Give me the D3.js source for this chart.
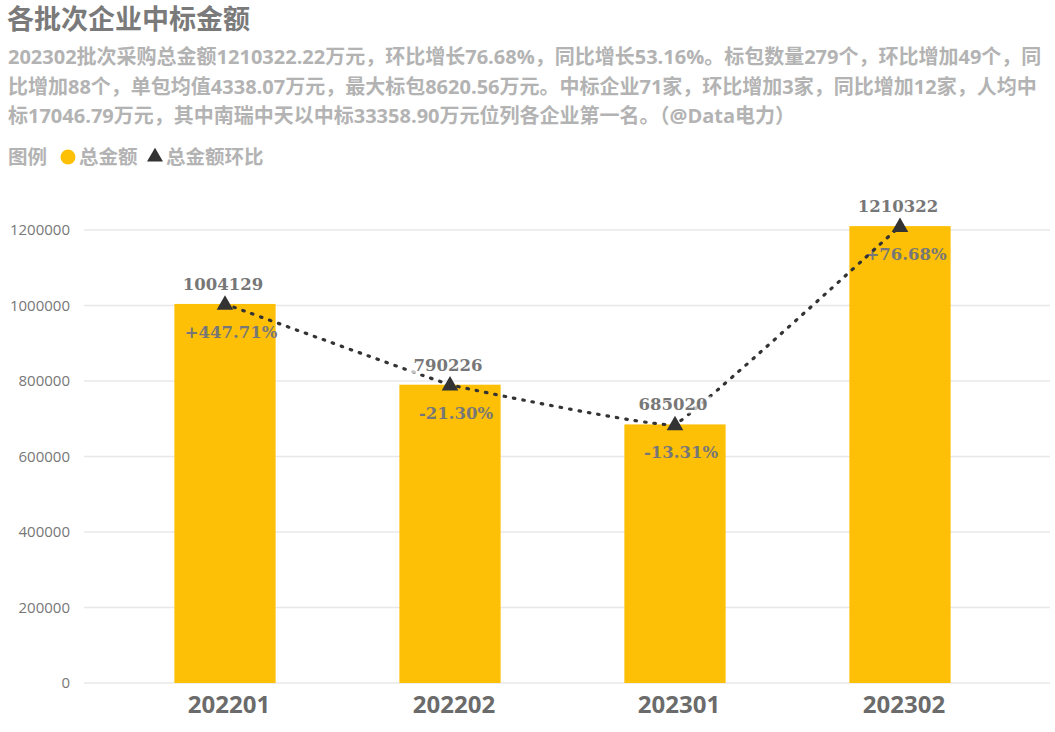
<!DOCTYPE html>
<html>
<head>
<meta charset="utf-8">
<script src="https://cdn.jsdelivr.net/npm/d3@7"></script>
<style>
  body { margin: 0; background: #fff; }
  text { font-family: "Open Sans", "Noto Sans CJK SC", sans-serif; }
</style>
</head>
<body>
<div id="chart"></div>
<script>
var batches = ["202201", "202202", "202301", "202302"];
var totals = [1004129, 790226, 685020, 1210322];
var changes = ["+447.71%", "-21.30%", "-13.31%", "+76.68%"];
var yTicks = [0, 200000, 400000, 600000, 800000, 1000000, 1200000];

var titleText = "各批次企业中标金额";
var noteLines = [
    "202302批次采购总金额1210322.22万元，环比增长76.68%，同比增长53.16%。标包数量279个，环比增加49个，同",
    "比增加88个，单包均值4338.07万元，最大标包8620.56万元。中标企业71家，环比增加3家，同比增加12家，人均中",
    "标17046.79万元，其中南瑞中天以中标33358.90万元位列各企业第一名。（@Data电力）"
];

function init() {
    var width = 1055;
    var height = 732;
    var barColor = "#FDC007";

    var svg = d3.select("#chart")
                .append("svg")
                .attr("width", width)
                .attr("height", height);

    // title + note
    svg.append("text")
        .attr("x", 7)
        .attr("y", 29)
        .attr("fill", "#7a7a7a")
        .style("font-size", "27px")
        .style("font-weight", "bold")
        .text(titleText);

    svg.selectAll("text.note")
        .data(noteLines)
        .enter()
        .append("text")
        .attr("class", "note")
        .attr("x", 8)
        .attr("y", function(d, i) { return 64 + i * 29.5; })
        .attr("fill", "#b3b3b3")
        .style("font-size", "20px")
        .style("font-weight", "bold")
        .text(function(d) { return d; });

    // legend
    var legend = svg.append("g").style("font-size", "19.5px").style("font-weight", "bold");
    legend.append("text").attr("x", 8).attr("y", 164).attr("fill", "#b3b3b3").text("图例");
    legend.append("circle").attr("cx", 68).attr("cy", 157).attr("r", 7.5).attr("fill", barColor);
    legend.append("text").attr("x", 79).attr("y", 164).attr("fill", "#b3b3b3").text("总金额");
    legend.append("path")
        .attr("d", d3.symbol().type(d3.symbolTriangle).size(110))
        .attr("transform", "translate(155,157)")
        .attr("fill", "#333");
    legend.append("text").attr("x", 166).attr("y", 164).attr("fill", "#b3b3b3").text("总金额环比");

    var xScale = d3.scaleBand()
                    .domain(batches)
                    .range([112.5, 1012.5])
                    .paddingInner(0.55)
                    .paddingOuter(0.275);

    var yScale = d3.scaleLinear()
                    .domain([0, 1200000])
                    .range([683, 230]);

    // grid lines
    svg.append("g")
        .selectAll("line")
        .data(yTicks)
        .enter()
        .append("line")
        .attr("x1", 84)
        .attr("x2", 1050)
        .attr("y1", function(d) { return yScale(d); })
        .attr("y2", function(d) { return yScale(d); })
        .attr("stroke", "#e8e8e8")
        .attr("stroke-width", 1.5);

    // Y axis
    var yAxis = d3.axisLeft(yScale)
                .tickValues(yTicks)
                .tickSize(0)
                .tickPadding(0)
                .tickFormat(d3.format("d"));
    var gy = svg.append("g")
        .attr("transform", "translate(70,0)")
        .call(yAxis);
    gy.select(".domain").remove();
    gy.selectAll("text")
        .attr("fill", "#777")
        .style("font-size", "15px")
        .style("font-family", "'Open Sans', sans-serif");

    // X axis
    var xAxis = d3.axisBottom(xScale).tickSize(0).tickPadding(0);
    var gx = svg.append("g")
        .attr("transform", "translate(4,713)")
        .call(xAxis);
    gx.select(".domain").remove();
    gx.selectAll("text")
        .attr("fill", "#6b6b6b")
        .attr("dy", 0)
        .style("font-size", "24px")
        .style("font-weight", "bold")
        .style("font-family", "'Open Sans', sans-serif");

    // bars
    svg.selectAll("rect.bar")
        .data(totals)
        .enter()
        .append("rect")
        .attr("class", "bar")
        .attr("x", function(d, i) { return xScale(batches[i]); })
        .attr("y", function(d) { return yScale(d); })
        .attr("width", xScale.bandwidth())
        .attr("height", function(d) { return yScale(0) - yScale(d); })
        .attr("fill", barColor);

    var cx = function(i) { return xScale(batches[i]) + xScale.bandwidth() / 2; };

    // change labels sit under the line
    svg.selectAll("text.pct")
        .data(changes)
        .enter()
        .append("text")
        .attr("class", "pct")
        .attr("x", function(d, i) { return cx(i) + 6; })
        .attr("y", function(d, i) { return yScale(totals[i]) + 34; })
        .attr("text-anchor", "middle")
        .attr("fill", "#777")
        .style("font-family", "'DejaVu Serif', serif")
        .style("font-size", "16.5px")
        .style("font-weight", "bold")
        .text(function(d) { return d; });

    // dotted trend line
    var line = d3.line()
                .x(function(d, i) { return cx(i); })
                .y(function(d) { return yScale(d); })
                .curve(d3.curveCardinal.tension(0.82));

    svg.append("path")
        .datum(totals)
        .attr("d", line)
        .attr("fill", "none")
        .attr("stroke", "#333")
        .attr("stroke-width", 3.2)
        .attr("stroke-linecap", "round")
        .attr("stroke-dasharray", "1.5,8");

    svg.selectAll("path.marker")
        .data(totals)
        .enter()
        .append("path")
        .attr("class", "marker")
        .attr("d", d3.symbol().type(d3.symbolTriangle).size(120))
        .attr("transform", function(d, i) {
            return "translate(" + cx(i) + "," + (yScale(d) + 1) + ")";
        })
        .attr("fill", "#333");

    // value labels on a translucent white box over the line
    var vals = svg.selectAll("g.val")
        .data(totals)
        .enter()
        .append("g")
        .attr("class", "val");

    var valText = vals.append("text")
        .attr("x", function(d, i) { return cx(i) - 2; })
        .attr("y", function(d) { return yScale(d) - 14; })
        .attr("text-anchor", "middle")
        .attr("fill", "#777")
        .style("font-family", "'DejaVu Serif', serif")
        .style("font-size", "16.5px")
        .style("font-weight", "bold")
        .text(function(d) { return d; });

    valText.each(function() {
        var b = this.getBBox();
        d3.select(this.parentNode).insert("rect", "text")
            .attr("x", b.x - 4)
            .attr("y", b.y + 1)
            .attr("width", b.width + 8)
            .attr("height", b.height - 2)
            .attr("fill", "#fff")
            .attr("fill-opacity", 0.7);
    });
}

window.onload = init;
</script>
</body>
</html>
